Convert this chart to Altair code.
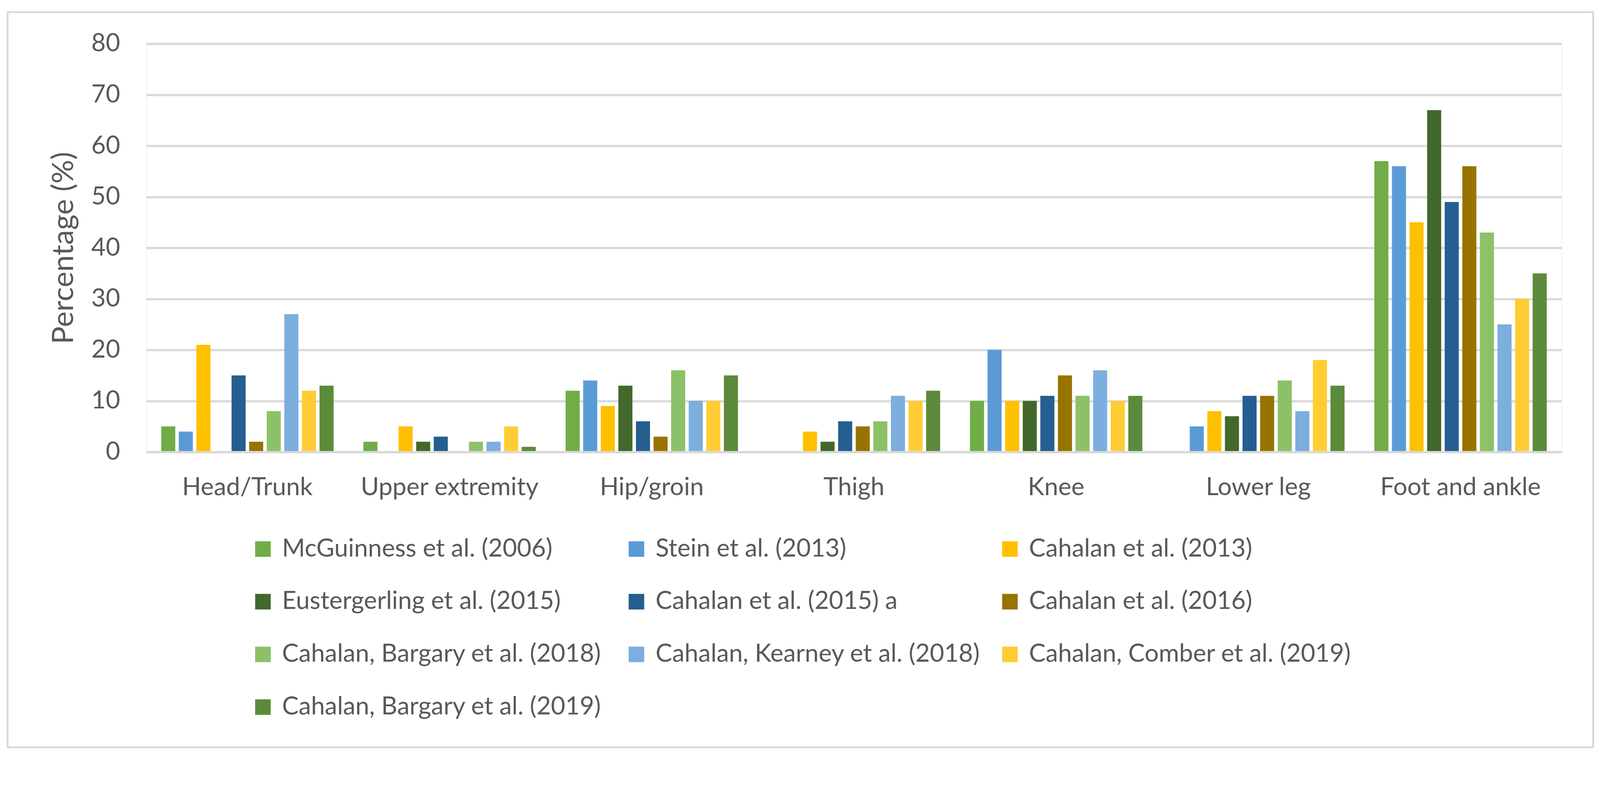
import altair as alt
import pandas as pd

categories = ["Head/Trunk", "Upper extremity", "Hip/groin", "Thigh", "Knee", "Lower leg", "Foot and ankle"]

studies = [
    "McGuinness et al. (2006)",
    "Stein et al. (2013)",
    "Cahalan et al. (2013)",
    "Eustergerling et al. (2015)",
    "Cahalan et al. (2015) a",
    "Cahalan et al. (2016)",
    "Cahalan, Bargary et al. (2018)",
    "Cahalan, Kearney et al. (2018)",
    "Cahalan, Comber et al. (2019)",
    "Cahalan, Bargary et al. (2019)",
]

mcguinness_2006 = [5, 2, 12, 0, 10, 0, 57]
stein_2013 = [4, 0, 14, 0, 20, 5, 56]
cahalan_2013 = [21, 5, 9, 4, 10, 8, 45]
eustergerling_2015 = [0, 2, 13, 2, 10, 7, 67]
cahalan_2015a = [15, 3, 6, 6, 11, 11, 49]
cahalan_2016 = [2, 0, 3, 5, 15, 11, 56]
bargary_2018 = [8, 2, 16, 6, 11, 14, 43]
kearney_2018 = [27, 2, 10, 11, 16, 8, 25]
comber_2019 = [12, 5, 10, 10, 10, 18, 30]
bargary_2019 = [13, 1, 15, 12, 11, 13, 35]

series = [mcguinness_2006, stein_2013, cahalan_2013, eustergerling_2015, cahalan_2015a,
          cahalan_2016, bargary_2018, kearney_2018, comber_2019, bargary_2019]

colors = ["#70AD47", "#5B9BD5", "#FFC000", "#43682B", "#255E91",
          "#997300", "#8CC168", "#7CAFDD", "#FFCD33", "#5B8B3A"]

y_ticks = [0, 10, 20, 30, 40, 50, 60, 70, 80]

rows = []
for s, vals in zip(studies, series):
    for c, v in zip(categories, vals):
        rows.append({"Region": c, "Study": s, "Percentage": v})
df = pd.DataFrame(rows)

TXT = "#595959"
GRID = "#D9D9D9"
FONT = "Lato"

bars = alt.Chart(df).mark_bar().encode(
    x=alt.X("Region:N", sort=categories,
            scale=alt.Scale(paddingInner=0.13, paddingOuter=0.065),
            axis=alt.Axis(title=None, labelAngle=0, labelFontSize=67, labelFont=FONT,
                          labelColor=TXT, labelPadding=116, labelBaseline="alphabetic",
                          ticks=False, tickSize=0, domainColor=GRID, domainWidth=6,
                          grid=False, zindex=1, labelLimit=1000)),
    xOffset=alt.XOffset("Study:N", sort=studies,
                        scale=alt.Scale(paddingInner=0.2, paddingOuter=0.1)),
    y=alt.Y("Percentage:Q",
            scale=alt.Scale(domain=[0, 80], nice=False),
            axis=alt.Axis(values=y_ticks, title="Percentage (%)", titleFontSize=80,
                          titleFont=FONT, titleColor=TXT, titleFontWeight="normal",
                          titlePadding=32, labelPadding=71, ticks=False, tickSize=0,
                          domain=False, gridColor=GRID, gridWidth=6, labelFontSize=67,
                          labelFont=FONT, labelColor=TXT)),
    color=alt.Color("Study:N", sort=studies,
                    scale=alt.Scale(domain=studies, range=colors),
                    legend=alt.Legend(orient="none", direction="horizontal",
                                      legendX=281, legendY=1328, columns=3,
                                      symbolType="square", symbolSize=1764,
                                      symbolStrokeWidth=0, labelFontSize=67, labelFont=FONT,
                                      labelColor=TXT, labelOffset=18, columnPadding=46,
                                      rowPadding=74, gridAlign="all", title=None,
                                      labelLimit=2000, padding=0)),
)

frame = alt.Chart(pd.DataFrame({"a": [0]})).mark_rect(
    filled=False, stroke=GRID, strokeWidth=5, fillOpacity=0
).encode(x=alt.value(-374), x2=alt.value(3901), y=alt.value(-85), y2=alt.value(1896))

chart = alt.layer(frame, bars).properties(
    width=3816, height=1100,
    autosize=alt.AutoSizeParams(type="none"),
    padding={"left": 386, "top": 56, "right": 95, "bottom": 854},
).configure_view(strokeWidth=0).configure(font=FONT, background="white")

chart.save("out.html", embed_options={"renderer": "svg", "actions": False})
